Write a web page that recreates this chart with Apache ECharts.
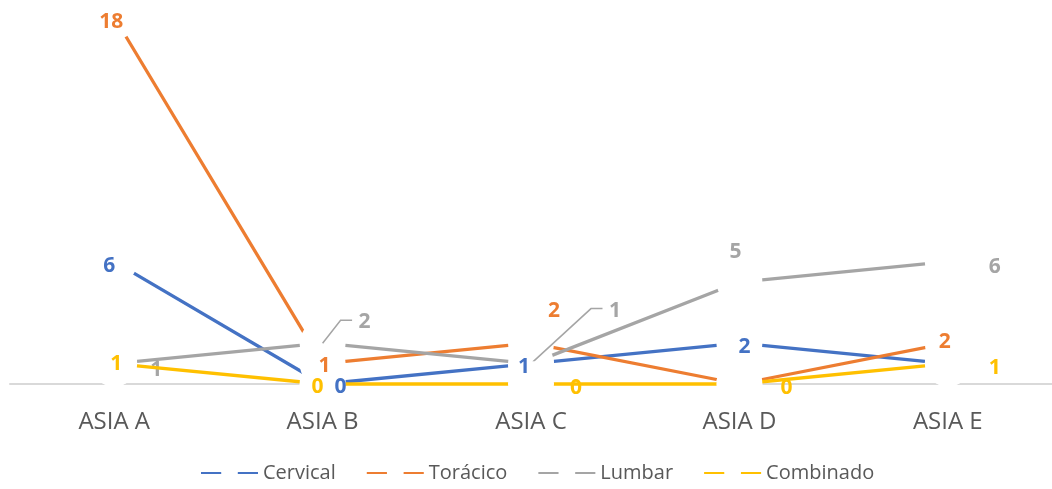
<!DOCTYPE html>
<html>
<head>
<meta charset="utf-8">
<script src="https://cdn.jsdelivr.net/npm/echarts@6/dist/echarts.min.js"></script>
<style>
  html, body { margin: 0; padding: 0; background: #fff; }
  #chart { width: 1052px; height: 489px; }
</style>
</head>
<body>
<div id="chart"></div>
<script>
// Categories and series values
const categories = ['ASIA A', 'ASIA B', 'ASIA C', 'ASIA D', 'ASIA E'];
const cervical   = [6, 0, 1, 2, 1];
const toracico   = [18, 1, 2, 0, 2];
const lumbar     = [1, 2, 1, 5, 6];
const combinado  = [1, 0, 0, 0, 1];

// Label nudges in pixels relative to each point (null = label not shown)
const cervicalNudge  = [[-5, 2], [18, 1], [-7, 1], [5, 2], null];
const toracicoNudge  = [[-3, 3], [2, 0], [23, -34], null, [-3, -3]];
const lumbarNudge    = [[42, 4], [42, -23], [84, -55], [-4, -32], [47, 3]];
const combinadoNudge = [[2, -2], [-5, 1], [45, 2], [47, 2], [47, 2]];
const lumbarLeader   = [false, true, true, false, false];
const LABEL_DY = 2;      // small downward shift applied to every value label
const LEADER_GAP = 12.5; // distance from label centre to the end of its leader
const LEADER_ARM = 11.5; // length of the horizontal part of a leader

const FONT = '"Open Sans", "Noto Sans", sans-serif';

const seriesDefs = [
  { name: 'Cervical',  color: '#4472C4', values: cervical,  nudge: cervicalNudge,  z: 2, labelZ: 10 },
  { name: 'Torácico',  color: '#ED7D31', values: toracico,  nudge: toracicoNudge,  z: 3, labelZ: 10 },
  { name: 'Lumbar',    color: '#A5A5A5', values: lumbar,    nudge: lumbarNudge,    z: 4, labelZ: 4.5 },
  { name: 'Combinado', color: '#FFC000', values: combinado, nudge: combinadoNudge, z: 5, labelZ: 10 }
];

// Lines with white round markers that open a gap around each point
const lineSeries = seriesDefs.map(d => ({
  type: 'line',
  name: d.name,
  data: d.values,
  z: d.z,
  clip: false,
  symbol: 'circle',
  symbolSize: 46,
  showSymbol: true,
  lineStyle: { color: d.color, width: 3.3 },
  itemStyle: { color: '#ffffff', borderWidth: 0, opacity: 1 },
  label: { show: false },
  emphasis: { disabled: true },
  silent: true
}));

// Value labels drawn from the same values
const labelSeries = seriesDefs.map(d => ({
  type: 'scatter',
  name: d.name,
  id: d.name + '-labels',
  z: d.labelZ,
  symbol: 'circle',
  symbolSize: 2,
  itemStyle: { color: 'rgba(0,0,0,0)', opacity: 1 },
  emphasis: { disabled: true },
  silent: true,
  data: d.values.map((v, i) => {
    const n = d.nudge[i];
    return {
      value: v,
      label: n ? { show: true, offset: [n[0], n[1] + LABEL_DY] } : { show: false }
    };
  }),
  label: {
    show: true,
    position: 'inside',
    color: d.color,
    fontFamily: FONT,
    fontWeight: 'bold',
    fontSize: 21,
    formatter: p => String(p.value)
  }
}));

// Leader lines joining the moved Lumbar labels to their points
const leaderSeries = {
  type: 'custom',
  name: 'Lumbar',
  id: 'lumbar-leaders',
  z: 4.5,
  silent: true,
  clip: false,
  data: lumbar.map((v, i) => [i, v]).filter((_, i) => lumbarLeader[i]),
  encode: { x: 0, y: 1 },
  renderItem: (params, api) => {
    const i = api.value(0);
    const p = api.coord([i, api.value(1)]);
    const n = lumbarNudge[i];
    const ex = p[0] + n[0] - LEADER_GAP;
    const ey = p[1] + n[1];
    return {
      type: 'polyline',
      shape: { points: [p, [ex - LEADER_ARM, ey], [ex, ey]] },
      style: { stroke: '#A5A5A5', lineWidth: 1.5, fill: null }
    };
  }
};

const chart = echarts.init(document.getElementById('chart'), null, { renderer: 'canvas' });
chart.setOption({
  animation: false,
  backgroundColor: '#ffffff',
  grid: { left: 10, right: 0, top: 17, bottom: 105, containLabel: false },
  xAxis: {
    type: 'category',
    data: categories,
    boundaryGap: true,
    axisLine: { show: true, lineStyle: { color: '#D9D9D9', width: 2 } },
    axisTick: { show: false },
    axisLabel: { color: '#595959', fontFamily: FONT, fontSize: 24, margin: 26 },
    splitLine: { show: false }
  },
  yAxis: {
    type: 'value',
    min: 0,
    max: 18,
    show: false,
    splitLine: { show: false }
  },
  legend: {
    data: seriesDefs.map(d => d.name),
    left: 195,
    top: 458,
    itemWidth: 57,
    itemHeight: 21,
    itemGap: 30,
    selectedMode: false,
    itemStyle: { borderWidth: 0 },
    textStyle: { color: '#595959', fontFamily: FONT, fontSize: 20 }
  },
  series: lineSeries.concat(labelSeries, [leaderSeries])
});
</script>
</body>
</html>
